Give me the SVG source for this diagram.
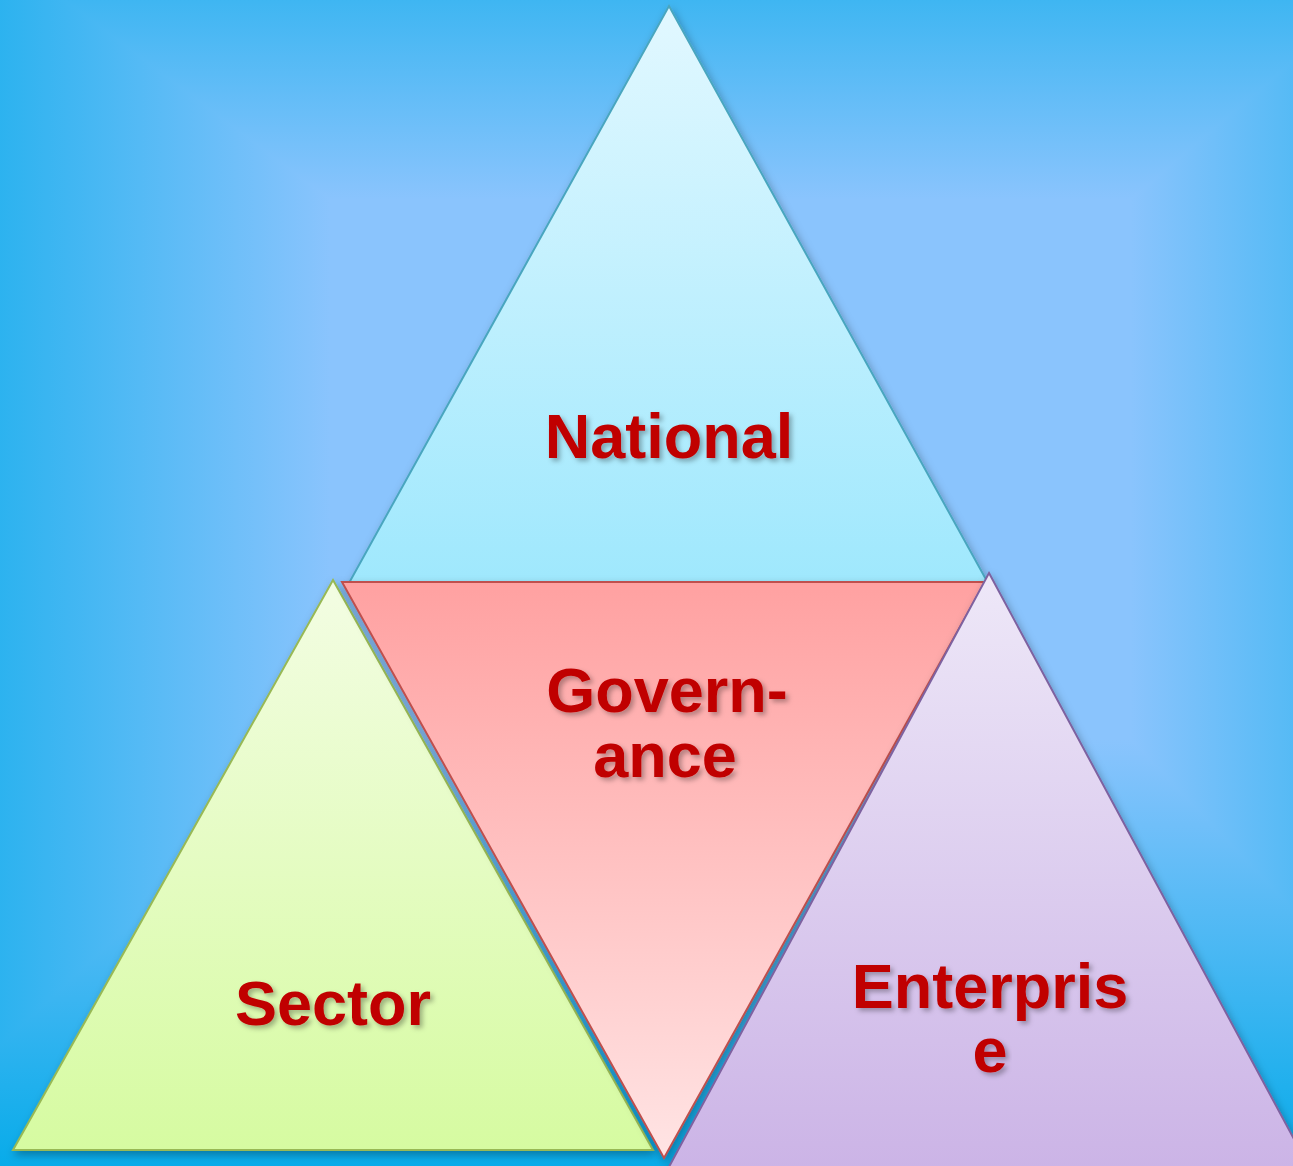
<svg xmlns="http://www.w3.org/2000/svg" width="1293" height="1166" viewBox="0 0 1293 1166">
<defs>
<linearGradient id="bgH" gradientUnits="userSpaceOnUse" x1="-122" y1="0" x2="1530" y2="0">
<stop offset="0" stop-color="#0aacea"/>
<stop offset="0.274" stop-color="#8ac4fd"/>
<stop offset="0.758" stop-color="#8ac4fd"/>
<stop offset="1" stop-color="#0aacea"/>
</linearGradient>
<linearGradient id="bgV" gradientUnits="userSpaceOnUse" x1="0" y1="-140" x2="0" y2="1172">
<stop offset="0" stop-color="#0aacea"/>
<stop offset="0.259" stop-color="#8ac4fd"/>
<stop offset="0.67" stop-color="#8ac4fd"/>
<stop offset="1" stop-color="#06abe9"/>
</linearGradient>
<linearGradient id="gNat" x1="0" y1="0" x2="0" y2="1">
<stop offset="0" stop-color="#e2f8ff"/>
<stop offset="1" stop-color="#9fe8fd"/>
</linearGradient>
<linearGradient id="gGov" x1="0" y1="0" x2="0" y2="1">
<stop offset="0" stop-color="#ffa1a1"/>
<stop offset="1" stop-color="#ffe4e4"/>
</linearGradient>
<linearGradient id="gSec" x1="0" y1="0" x2="0" y2="1">
<stop offset="0" stop-color="#f3fde3"/>
<stop offset="1" stop-color="#d6fba1"/>
</linearGradient>
<linearGradient id="gEnt" x1="0" y1="0" x2="0" y2="1">
<stop offset="0" stop-color="#eee8f8"/>
<stop offset="1" stop-color="#cbb3e6"/>
</linearGradient>
<filter id="sh" x="-10%" y="-10%" width="120%" height="120%">
<feDropShadow dx="2" dy="4" stdDeviation="4" flood-color="#000" flood-opacity="0.3"/>
</filter>
<filter id="tsh" x="-10%" y="-20%" width="120%" height="140%">
<feDropShadow dx="3" dy="3" stdDeviation="2.5" flood-color="#000" flood-opacity="0.3"/>
</filter>
</defs>
<style>
.lbl{font-family:"Liberation Sans",Arial,sans-serif;font-weight:bold;font-size:63px;fill:#c00000;text-anchor:middle;filter:url(#tsh)}
.tri{stroke-width:2;stroke-linejoin:miter}
</style>
<g id="background" style="isolation:isolate">
<rect x="0" y="0" width="1293" height="1166" fill="url(#bgH)"/>
<rect x="0" y="0" width="1293" height="1166" fill="url(#bgV)" style="mix-blend-mode:darken"/>
</g>
<g id="national">
<polygon class="tri" points="669,6 988,583 349,583" fill="url(#gNat)" stroke="#4aa6bf" filter="url(#sh)"/>
<text class="lbl" x="669" y="458">National</text>
</g>
<g id="sector">
<polygon class="tri" points="333,580 653,1150 13,1150" fill="url(#gSec)" stroke="#98b954" filter="url(#sh)"/>
<text class="lbl" x="333" y="1025">Sector</text>
</g>
<g id="governance">
<polygon class="tri" points="342,582 985,582 664,1158" fill="url(#gGov)" stroke="#c0504d" filter="url(#sh)"/>
<text class="lbl" x="667" y="712">Govern-</text>
<text class="lbl" x="665" y="777">ance</text>
</g>
<g id="enterprise">
<polygon class="tri" points="989,573 1315,1178 663,1178" fill="url(#gEnt)" stroke="#7e62a0" filter="url(#sh)"/>
<text class="lbl" x="990" y="1008">Enterpris</text>
<text class="lbl" x="990" y="1072">e</text>
</g>
<g id="connectors"></g>
</svg>
